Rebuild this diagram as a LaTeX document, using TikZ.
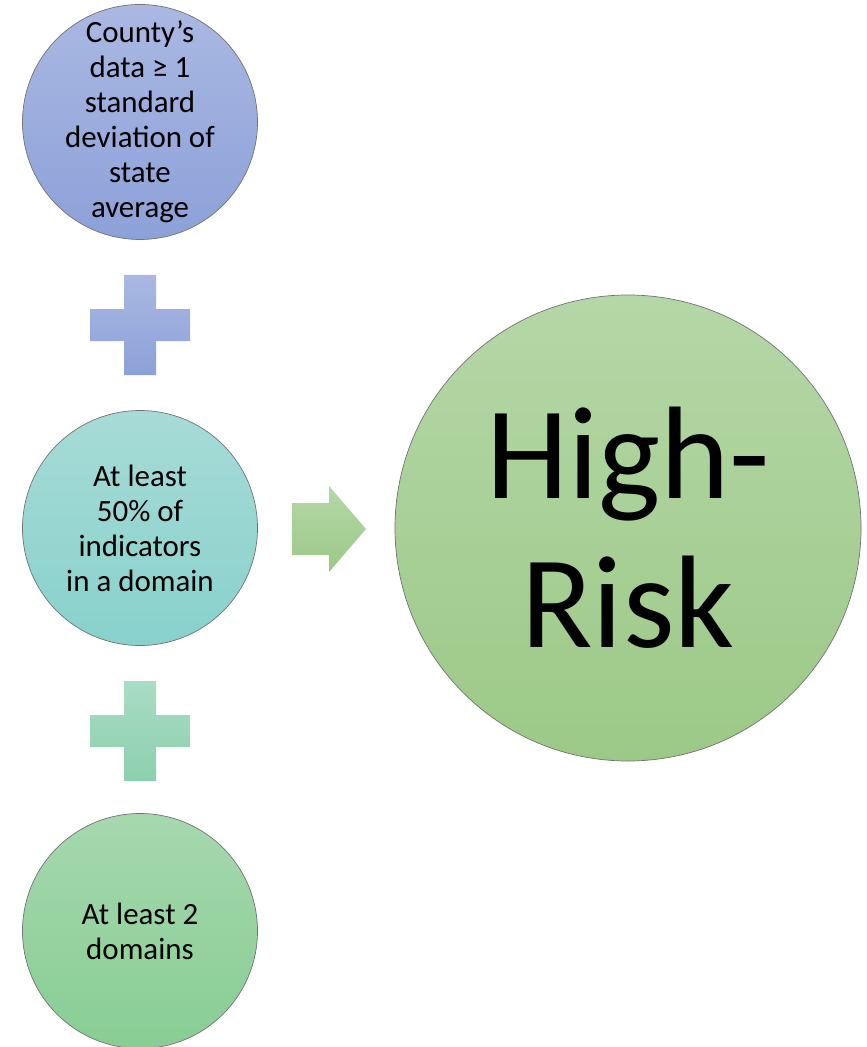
\documentclass[tikz,border=0pt]{standalone}
\usepackage{fontspec}
\setmainfont{Carlito}
\usetikzlibrary{positioning, calc}
\definecolor{blueT}{HTML}{AAB8E2}\definecolor{blueB}{HTML}{8CA1D9}
\definecolor{tealT}{HTML}{A7DBD7}\definecolor{tealB}{HTML}{88D1CC}
\definecolor{mintT}{HTML}{A9DCC5}\definecolor{mintB}{HTML}{8CD0AD}
\definecolor{leafT}{HTML}{A6D8AE}\definecolor{leafB}{HTML}{88CD94}
\definecolor{oliveT}{HTML}{B5D7A7}\definecolor{oliveB}{HTML}{9CC987}
\newcommand{\plusmark}[4]{%
  \shade[top color=#3, bottom color=#4]
    ({#1-16},{#2+50}) -- ({#1+16},{#2+50}) -- ({#1+16},{#2+16}) -- ({#1+50},{#2+16})
    -- ({#1+50},{#2-16}) -- ({#1+16},{#2-16}) -- ({#1+16},{#2-50}) -- ({#1-16},{#2-50})
    -- ({#1-16},{#2-16}) -- ({#1-50},{#2-16}) -- ({#1-50},{#2+16}) -- ({#1-16},{#2+16}) -- cycle;}

\begin{document}
\begin{tikzpicture}[x=0.02cm, y=0.02cm,
  crit/.style={circle, draw=black!55, line width=0.4pt, inner sep=0pt,
    minimum size=235*0.02cm},
  crittext/.style={align=center, inner sep=0pt, font=\fontsize{17.6}{19.9}\selectfont},
  result/.style={crit, minimum size=466*0.02cm},
  resulttext/.style={crittext, font=\fontsize{75}{85}\selectfont}]
\useasboundingbox (0,0) rectangle (866,-1047);
% three criteria, stacked
\node[crit, top color=blueT, bottom color=blueB] (county) at (140,-122) {};
\node[crittext] (countytxt) at (county)
  {County’s\\data ≥ 1\\standard\\deviation of\\state\\average};
\node[crit, top color=tealT, bottom color=tealB] (half) at (140,-528) {};
\node[crittext] (halftxt) at (half)
  {At least\\50\% of\\indicators\\in a domain};
\node[crit, top color=leafT, bottom color=leafB] (twodom) at (140,-931) {};
\node[crittext] (twodomtxt) at (twodom) {At least 2\\domains};
% plus signs between them
\plusmark{140}{-325}{blueT}{blueB}
\plusmark{140}{-731}{mintT}{mintB}
% block arrow to the outcome
\shade[top color=oliveT, bottom color=oliveB]
  (292,-503) -- (329,-503) -- (329,-486) -- (366,-529) -- (329,-572)
  -- (329,-555) -- (292,-555) -- cycle;
\node[result, top color=oliveT, bottom color=oliveB] (risk) at (628,-528) {};
\node[resulttext] (risktxt) at (risk) {High-\\Risk};
\end{tikzpicture}
\end{document}
